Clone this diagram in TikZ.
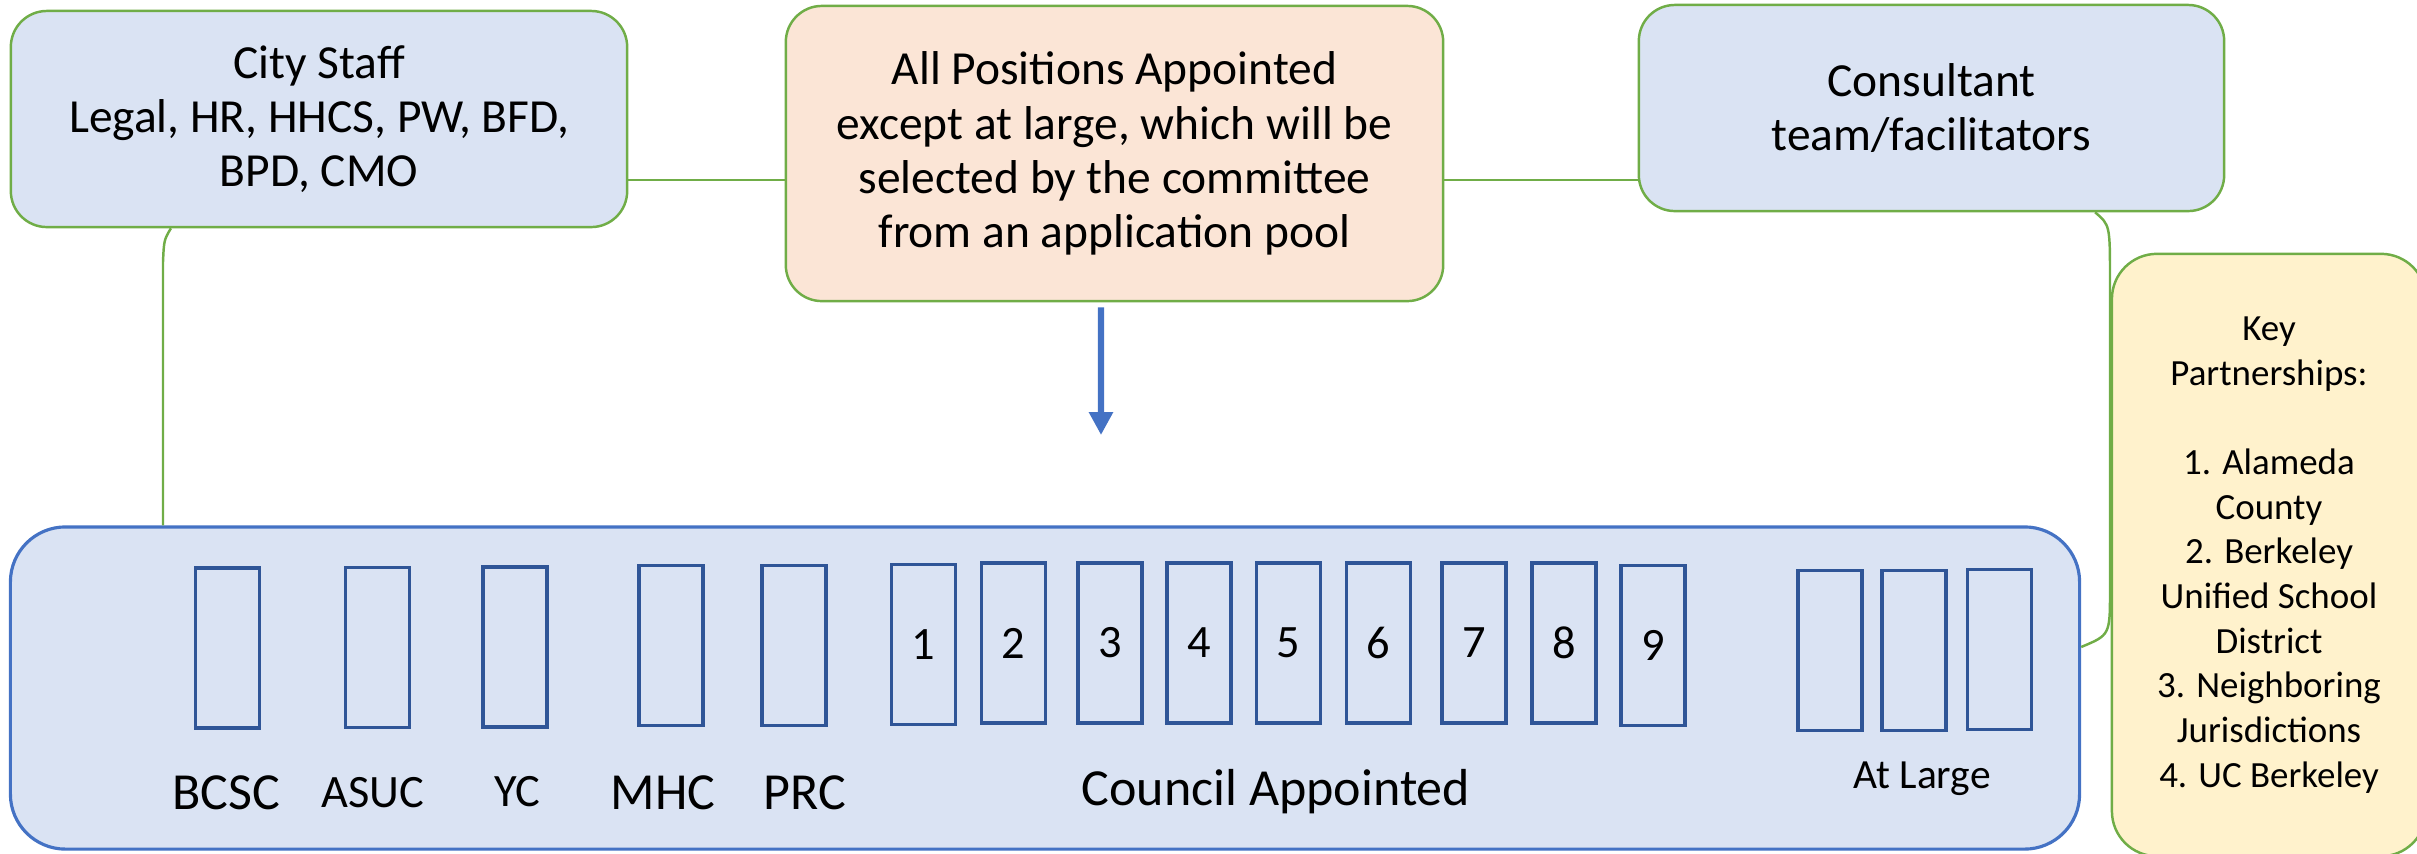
\documentclass[tikz,border=0pt]{standalone}
\usepackage{fontspec}
\setmainfont{Carlito}
\usetikzlibrary{arrows.meta}
\definecolor{boxblue}{HTML}{DAE3F3}
\definecolor{boxpeach}{HTML}{FBE5D6}
\definecolor{boxcream}{HTML}{FFF2CC}
\definecolor{linkgreen}{HTML}{70AD47}
\definecolor{edgeblue}{HTML}{4472C4}
\definecolor{slotblue}{HTML}{2F5597}
\newcommand\tagbig{\fontsize{14.8}{17}\selectfont}
\newcommand\tagmid{\fontsize{13.2}{15}\selectfont}
\newcommand\tagsmall{\fontsize{11.8}{14}\selectfont}
\begin{document}
\begin{tikzpicture}[x=0.01cm,y=-0.01cm,>={Triangle[width=6.5pt,length=6.5pt]},
  topbox/.style={draw=linkgreen,line width=0.7pt,rounded corners=3.6mm,align=center,
    font=\fontsize{13.5}{15.4}\selectfont,inner sep=0pt},
  link/.style={linkgreen,line width=0.7pt},
  slot/.style={draw=slotblue,line width=0.9pt,minimum width=0.64cm,minimum height=1.6cm,
    inner sep=0pt,font=\tagmid},
  tag/.style={anchor=base,inner sep=0pt}]
\useasboundingbox (0,0) rectangle (2417,853);

% top row
\node[topbox,fill=boxblue,minimum width=6.16cm,minimum height=2.16cm] (city) at (319,119)
  {City Staff\\Legal, HR, HHCS, PW, BFD,\\BPD, CMO};
\node[topbox,fill=boxpeach,minimum width=6.57cm,minimum height=2.95cm] (posts) at (1114.5,153.5)
  {All Positions Appointed\\except at large, which will be\\selected by the committee\\from an application pool};
\node[topbox,fill=boxblue,minimum width=5.85cm,minimum height=2.06cm] (consult) at (1931.5,108)
  {Consultant\\team/facilitators};
\node[topbox,fill=boxcream,rounded corners=4.5mm,minimum width=3.14cm,minimum height=6.02cm,
  font=\fontsize{10.5}{12.7}\selectfont] (partners) at (2269,555)
  {Key\\Partnerships:\\[12.7pt]1. Alameda\\County\\2. Berkeley\\Unified School\\District\\3. Neighboring\\Jurisdictions\\4. UC Berkeley};

% committee
\node[draw=edgeblue,fill=boxblue,line width=0.9pt,rounded corners=5.5mm,
  minimum width=20.68cm,minimum height=3.22cm] (main) at (1045,688) {};
\foreach \name/\x/\y in {bcsc/227.5/648,asuc/377.5/647.5,yc/515/647,mhc/671/645.5,prc/794/645.5,
    big1/1830/650.5,big2/1914/650.5,big3/1999.5/649.5}
  \node[slot] (\name) at (\x,\y) {};
\foreach \n/\x/\y in {1/923.5/644.5,2/1013.5/643,3/1110/643,4/1199/643,5/1288.5/643,
    6/1378.5/643,7/1474/643,8/1564/643,9/1653/645.5}
  \node[slot] (seat\n) at (\x,\y) {\n};
\node[tag,font=\tagbig] (tbcsc) at (226,809) {BCSC};
\node[tag,font=\tagmid] (tasuc) at (373,807) {ASUC};
\node[tag,font=\tagmid] (tyc) at (517,806) {YC};
\node[tag,font=\tagbig] (tmhc) at (663,809) {MHC};
\node[tag,font=\tagbig] (tprc) at (805,809) {PRC};
\node[tag,font=\tagbig] (tcouncil) at (1276,805) {Council Appointed};
\node[tag,font=\tagsmall] (tlarge) at (1922,788) {At Large};

% links
\coordinate (linkrow) at (0,180);
\coordinate (cityleg) at (163,262);
\coordinate (consleg) at (2110,280);
\coordinate (consknee) at (2110,590);
\coordinate (arrowtip) at (1101,435);
\draw[link] (city.east |- linkrow) -- (posts.west |- linkrow);
\draw[link] (posts.east |- linkrow) -- (consult.west |- linkrow);
\draw[link] ([xshift=-1.48cm]city.south) .. controls (164,240) .. (cityleg) -- (cityleg |- main.north);
\draw[link] ([xshift=1.635cm]consult.south) .. controls (2110,225) .. (consleg) -- (consknee)
  .. controls (2110,635) .. ([yshift=0.41cm]main.east);
\draw[->,edgeblue,line width=1.8pt] ([xshift=-0.135cm,yshift=-0.05cm]posts.south) -- (arrowtip);
\end{tikzpicture}
\end{document}
